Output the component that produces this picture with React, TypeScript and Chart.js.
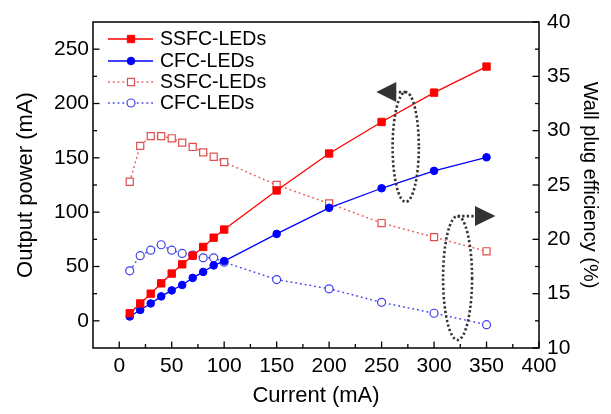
import React, { useEffect, useRef } from "react";
import { Chart, registerables } from "chart.js";

Chart.register(...registerables);

const current = [10, 20, 30, 40, 50, 60, 70, 80, 90, 100, 150, 200, 250, 300, 350];
const ssfcPower = [7, 16, 25, 34.5, 43.5, 52, 60, 68, 76.5, 84, 120, 154, 183, 210, 234];
const cfcPower = [4, 10, 16, 22.5, 28, 33, 39.5, 45, 51, 55, 80, 104, 122, 138, 150.5];
const ssfcWpe = [25.3, 28.6, 29.5, 29.5, 29.3, 28.9, 28.5, 28.0, 27.6, 27.1, 25.0, 23.3, 21.5, 20.2, 18.9];
const cfcWpe = [17.1, 18.5, 19.0, 19.5, 19.0, 18.7, 18.55, 18.3, 18.3, 17.9, 16.3, 15.45, 14.2, 13.2, 12.15];

const xTicks = [0, 50, 100, 150, 200, 250, 300, 350, 400];
const xMinor = [25, 75, 125, 175, 225, 275, 325, 375];
const yTicks = [0, 50, 100, 150, 200, 250];
const yMinor = [25, 75, 125, 175, 225];
const y2Ticks = [10, 15, 20, 25, 30, 35, 40];
const y2Minor = [12.5, 17.5, 22.5, 27.5, 32.5, 37.5];

const FONT = "'Liberation Sans', Arial, sans-serif";

// annotation ellipses (in data units)
const ellipses = [
  { yAxis: "y", cx: 273, cy: 160, rx: 12.5, ry: 50.5, base: 264, tip: 245 },
  { yAxis: "y2", cx: 322.4, cy: 16.44, rx: 13.8, ry: 5.7, base: 339, tip: 358.5 },
];

const decorPlugin = {
  id: "decor",
  afterDatasetsDraw(chart: any) {
    const { ctx, chartArea: a, scales } = chart;
    const xs = scales.x, ys = scales.y, y2 = scales.y2;
    ctx.save();
    // frame
    ctx.strokeStyle = "#000";
    ctx.lineWidth = 1.5;
    ctx.setLineDash([]);
    ctx.strokeRect(a.left, a.top, a.right - a.left, a.bottom - a.top);
    ctx.lineWidth = 1.3;
    const tick = (x1: number, y1: number, x2: number, y2p: number) => {
      ctx.beginPath();
      ctx.moveTo(x1, y1);
      ctx.lineTo(x2, y2p);
      ctx.stroke();
    };
    xTicks.forEach((v) => { const p = xs.getPixelForValue(v); tick(p, a.bottom, p, a.bottom - 6.5); });
    xMinor.forEach((v) => { const p = xs.getPixelForValue(v); tick(p, a.bottom, p, a.bottom - 4); });
    yTicks.forEach((v) => { const p = ys.getPixelForValue(v); tick(a.left, p, a.left + 6.5, p); });
    yMinor.forEach((v) => { const p = ys.getPixelForValue(v); tick(a.left, p, a.left + 4, p); });
    y2Ticks.forEach((v) => { const p = y2.getPixelForValue(v); tick(a.right, p, a.right - 6.5, p); });
    y2Minor.forEach((v) => { const p = y2.getPixelForValue(v); tick(a.right, p, a.right - 4, p); });

    // ellipses + arrows
    ellipses.forEach((e) => {
      const sy = scales[e.yAxis];
      const cx = xs.getPixelForValue(e.cx);
      const cy = sy.getPixelForValue(e.cy);
      const rx = Math.abs(xs.getPixelForValue(e.cx + e.rx) - cx);
      const ry = Math.abs(sy.getPixelForValue(e.cy + e.ry) - cy);
      const top = cy - ry;
      ctx.strokeStyle = "#333";
      ctx.lineWidth = 2.6;
      ctx.setLineDash([2.3, 2.3]);
      ctx.beginPath();
      ctx.ellipse(cx, cy, rx, ry, 0, 0, Math.PI * 2);
      ctx.stroke();
      const bx = xs.getPixelForValue(e.base);
      const tx = xs.getPixelForValue(e.tip);
      ctx.beginPath();
      ctx.moveTo(cx, top);
      ctx.lineTo(bx, top);
      ctx.stroke();
      ctx.setLineDash([]);
      ctx.fillStyle = "#333";
      ctx.beginPath();
      ctx.moveTo(tx, top);
      ctx.lineTo(bx, top - 10);
      ctx.lineTo(bx, top + 10);
      ctx.closePath();
      ctx.fill();
    });

    // legend
    const lx1 = a.left + 15, lx2 = a.left + 60, mx = a.left + 38, tx = a.left + 67;
    const rows = [a.top + 17, a.top + 39, a.top + 60, a.top + 81];
    chart.data.datasets.forEach((ds: any, i: number) => {
      const y = rows[i];
      ctx.strokeStyle = ds.borderColor;
      ctx.lineWidth = ds.borderWidth;
      ctx.setLineDash(ds.borderDash || []);
      ctx.beginPath();
      ctx.moveTo(lx1, y);
      ctx.lineTo(lx2, y);
      ctx.stroke();
      ctx.setLineDash([]);
      ctx.fillStyle = ds.pointBackgroundColor;
      ctx.strokeStyle = ds.pointBorderColor;
      ctx.lineWidth = ds.pointBorderWidth;
      ctx.beginPath();
      if (ds.pointStyle === "rect") {
        const s = ds.pointRadius * Math.SQRT1_2;
        ctx.rect(mx - s, y - s, 2 * s, 2 * s);
      } else {
        ctx.arc(mx, y, ds.pointRadius, 0, Math.PI * 2);
      }
      ctx.fill();
      ctx.stroke();
      ctx.fillStyle = "#000";
      ctx.font = `19.5px ${FONT}`;
      ctx.textBaseline = "middle";
      ctx.textAlign = "left";
      ctx.fillText(ds.label, tx, y + 1);
    });
    ctx.restore();
  },
};

export default function App() {
  const ref = useRef<HTMLCanvasElement>(null);
  useEffect(() => {
    document.body.style.margin = "0";
    const mk = (ys: number[]) => current.map((x, i) => ({ x, y: ys[i] }));
    const chart = new Chart(ref.current!, {
      type: "line",
      data: {
        datasets: [
          {
            label: "SSFC-LEDs", data: mk(ssfcPower), yAxisID: "y",
            borderColor: "#ff0000", borderWidth: 1.3, pointStyle: "rect", pointRadius: 5.2,
            pointBackgroundColor: "#ff0000", pointBorderColor: "#ff0000", pointBorderWidth: 1,
          },
          {
            label: "CFC-LEDs", data: mk(cfcPower), yAxisID: "y",
            borderColor: "#0000ff", borderWidth: 1.3, pointStyle: "circle", pointRadius: 3.8,
            pointBackgroundColor: "#0000ff", pointBorderColor: "#0000ff", pointBorderWidth: 1,
          },
          {
            label: "SSFC-LEDs", data: mk(ssfcWpe), yAxisID: "y2",
            borderColor: "#ec5a5a", borderWidth: 1.5, borderDash: [1.8, 3], pointStyle: "rect", pointRadius: 5,
            pointBackgroundColor: "#ffffff", pointBorderColor: "#e05050", pointBorderWidth: 1.2,
          },
          {
            label: "CFC-LEDs", data: mk(cfcWpe), yAxisID: "y2",
            borderColor: "#4848ee", borderWidth: 1.5, borderDash: [1.8, 3], pointStyle: "circle", pointRadius: 4,
            pointBackgroundColor: "#ffffff", pointBorderColor: "#4040e8", pointBorderWidth: 1.2,
          },
        ],
      },
      options: {
        animation: false,
        responsive: true,
        maintainAspectRatio: false,
        layout: { padding: { top: 22, left: 0, right: 0, bottom: 0 } },
        plugins: { legend: { display: false }, tooltip: { enabled: false } },
        scales: {
          x: {
            type: "linear", position: "bottom", min: -25, max: 400,
            afterBuildTicks: (s: any) => { s.ticks = xTicks.map((v) => ({ value: v })); },
            afterFit: (s: any) => { s.height = 66; },
            grid: { display: false, drawTicks: false },
            border: { display: false },
            ticks: { autoSkip: false, maxRotation: 0, padding: 6, color: "#000", font: { family: FONT, size: 21 } },
            title: { display: true, text: "Current (mA)", color: "#000", font: { family: FONT, size: 22 }, padding: { top: 0, bottom: 5 } },
          },
          y: {
            type: "linear", position: "left", min: -25, max: 275,
            afterBuildTicks: (s: any) => { s.ticks = yTicks.map((v) => ({ value: v })); },
            afterFit: (s: any) => { s.width = 93; },
            grid: { display: false, drawTicks: false },
            border: { display: false },
            ticks: { padding: 4, color: "#000", font: { family: FONT, size: 21 } },
            title: { display: true, text: "Output power (mA)", color: "#000", font: { family: FONT, size: 22 }, padding: { top: 13, bottom: 0 } },
          },
          y2: {
            type: "linear", position: "right", min: 10, max: 40,
            afterBuildTicks: (s: any) => { s.ticks = y2Ticks.map((v) => ({ value: v })); },
            afterFit: (s: any) => { s.width = 72; },
            grid: { display: false, drawTicks: false },
            border: { display: false },
            ticks: { padding: 8, color: "#000", font: { family: FONT, size: 21 } },
            title: { display: true, text: "Wall plug efficiency (%)", color: "#000", font: { family: FONT, size: 20 }, padding: { top: 9, bottom: 0 } },
          },
        },
      } as any,
      plugins: [decorPlugin],
    });
    return () => chart.destroy();
  }, []);
  return (
    <div style={{ position: "fixed", left: 0, top: 0, width: 611, height: 414, background: "#fff" }}>
      <canvas ref={ref} />
    </div>
  );
}
